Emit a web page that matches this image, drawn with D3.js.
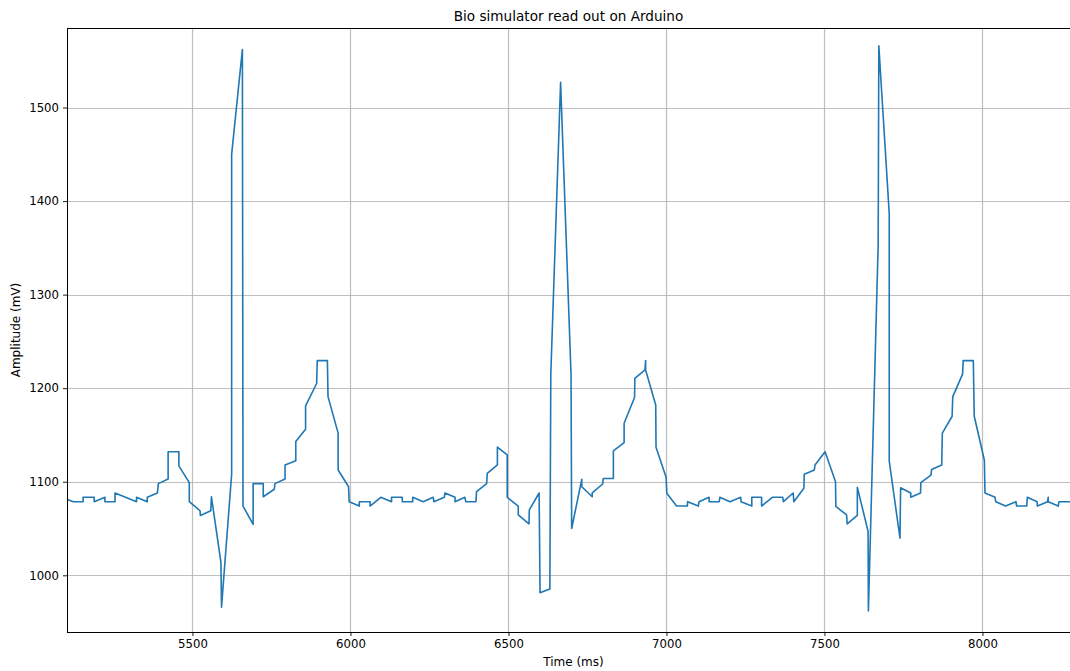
<!DOCTYPE html>
<html>
<head>
<meta charset="utf-8">
<script src="https://cdn.jsdelivr.net/npm/d3@7"></script>
<style>
  html, body { margin: 0; padding: 0; background: #fff; }
  svg { display: block; }
  text { font-family: "DejaVu Sans", sans-serif; fill: #000; }
</style>
</head>
<body>
<svg id="chart" width="1070" height="671"></svg>
<script>
// ---- Data ----
const timeMs = [
  5104, 5123, 5154, 5154, 5189, 5189, 5223, 5223, 5255, 5255,
  5323, 5323, 5357, 5357, 5389, 5392, 5423, 5423, 5457, 5457,
  5490, 5490, 5524, 5525, 5558, 5560, 5590, 5592, 5624, 5624,
  5658, 5660, 5692, 5692, 5724, 5724, 5759, 5761, 5793, 5793,
  5827, 5827, 5858, 5858, 5893, 5895, 5927, 5929, 5961, 5961,
  5994, 5996, 6028, 6028, 6062, 6062, 6096, 6130, 6130, 6164,
  6164, 6197, 6197, 6230, 6262, 6264, 6297, 6299, 6331, 6331,
  6362, 6365, 6397, 6399, 6431, 6433, 6465, 6465, 6496, 6496,
  6531, 6531, 6565, 6566, 6597, 6600, 6631, 6634, 6665, 6698,
  6700, 6732, 6732, 6765, 6765, 6798, 6800, 6832, 6832, 6866,
  6866, 6899, 6900, 6932, 6934, 6934, 6966, 6967, 6999, 7001,
  7032, 7066, 7067, 7101, 7103, 7135, 7135, 7167, 7169, 7201,
  7235, 7236, 7270, 7270, 7301, 7301, 7335, 7368, 7370, 7401,
  7403, 7435, 7436, 7468, 7470, 7502, 7535, 7536, 7570, 7572,
  7604, 7604, 7638, 7639, 7670, 7672, 7705, 7705, 7739, 7741,
  7773, 7773, 7804, 7805, 7837, 7839, 7871, 7873, 7904, 7906,
  7937, 7939, 7971, 7974, 8006, 8008, 8040, 8042, 8073, 8106,
  8108, 8140, 8142, 8173, 8174, 8206, 8208, 8208, 8240, 8242,
  8277
];
const amplitudeMv = [
  1081.0, 1078.7, 1078.7, 1083.4, 1083.4, 1078.7, 1083.4, 1078.7, 1078.7, 1088.0,
  1078.7, 1083.4, 1078.7, 1083.4, 1088.0, 1098.0, 1103.0, 1132.0, 1132.0, 1117.0,
  1099.0, 1078.7, 1069.0, 1064.0, 1069.0, 1084.0, 1014.0, 966.0, 1108.0, 1450.0,
  1562.0, 1074.0, 1054.5, 1098.0, 1098.0, 1084.0, 1092.0, 1098.0, 1103.0, 1118.0,
  1122.5, 1143.0, 1156.0, 1181.0, 1205.0, 1229.5, 1229.5, 1191.0, 1152.0, 1112.6,
  1094.7, 1078.7, 1074.0, 1078.7, 1078.7, 1074.0, 1083.4, 1078.7, 1083.4, 1083.4,
  1078.7, 1078.7, 1083.4, 1078.7, 1083.4, 1078.7, 1083.4, 1088.0, 1083.4, 1078.7,
  1083.4, 1078.7, 1078.7, 1089.4, 1098.0, 1109.0, 1118.0, 1137.0, 1128.6, 1083.4,
  1074.0, 1064.5, 1055.0, 1070.0, 1088.0, 981.4, 985.4, 1215.0, 1527.0, 1215.0,
  1050.0, 1102.6, 1094.7, 1084.0, 1088.0, 1097.6, 1103.4, 1103.4, 1133.0, 1141.8,
  1162.5, 1190.0, 1210.6, 1219.5, 1229.5, 1219.5, 1182.0, 1137.0, 1104.5, 1087.7,
  1074.0, 1074.0, 1078.7, 1074.0, 1078.7, 1083.4, 1078.7, 1078.7, 1083.4, 1078.7,
  1083.4, 1078.7, 1074.0, 1083.4, 1083.4, 1074.0, 1083.4, 1083.4, 1078.7, 1088.0,
  1078.7, 1093.0, 1108.0, 1112.6, 1118.0, 1132.0, 1100.0, 1073.6, 1064.5, 1055.0,
  1064.0, 1094.0, 1047.0, 962.0, 1354.0, 1566.0, 1386.6, 1122.0, 1039.6, 1093.5,
  1088.0, 1083.4, 1088.0, 1099.0, 1107.0, 1113.0, 1118.0, 1152.0, 1170.0, 1191.0,
  1215.0, 1229.5, 1229.5, 1170.0, 1123.0, 1088.0, 1083.4, 1078.7, 1074.0, 1078.7,
  1074.0, 1074.0, 1083.4, 1078.7, 1074.0, 1078.7, 1083.4, 1078.7, 1074.0, 1078.7,
  1078.7
];
const xTicks = [5500, 6000, 6500, 7000, 7500, 8000];
const yTicks = [1000, 1100, 1200, 1300, 1400, 1500];
const chartTitle = "Bio simulator read out on Arduino";
const xLabel = "Time (ms)";
const yLabel = "Amplitude (mV)";

// ---- Layout ----
const svg = d3.select("#chart");
const L = 67, R = 1070, T = 28, B = 632;

const x = d3.scaleLinear().domain([5103, 8277]).range([L, R]);
const y = d3.scaleLinear().domain([939.4, 1585]).range([B, T]);

const data = timeMs.map((t, i) => ({ t, v: amplitudeMv[i] }));

// grid
const grid = svg.append("g");
grid.selectAll("line.gx").data(xTicks).join("line")
  .attr("x1", d => Math.round(x(d)) + 0.5).attr("x2", d => Math.round(x(d)) + 0.5)
  .attr("y1", T).attr("y2", B)
  .attr("stroke", "#b0b0b0").attr("stroke-width", 1.2).attr("opacity", 0.8);
grid.selectAll("line.gy").data(yTicks).join("line")
  .attr("y1", d => Math.round(y(d)) + 0.5).attr("y2", d => Math.round(y(d)) + 0.5)
  .attr("x1", L).attr("x2", R)
  .attr("stroke", "#b0b0b0").attr("stroke-width", 1.2).attr("opacity", 0.8);

// line
svg.append("defs").append("clipPath").attr("id", "clip")
  .append("rect").attr("x", L).attr("y", T).attr("width", R - L).attr("height", B - T);
svg.append("path")
  .datum(data)
  .attr("clip-path", "url(#clip)")
  .attr("fill", "none")
  .attr("stroke", "#1f77b4")
  .attr("stroke-width", 1.6)
  .attr("stroke-linejoin", "round")
  .attr("d", d3.line().x(d => x(d.t)).y(d => y(d.v)));

// axes
const xAxis = d3.axisBottom(x).tickValues(xTicks).tickSize(4).tickPadding(4).tickFormat(d3.format("d"));
const yAxis = d3.axisLeft(y).tickValues(yTicks).tickSize(4).tickPadding(4).tickFormat(d3.format("d"));
const gx = svg.append("g").attr("transform", `translate(0,${B})`).call(xAxis);
const gy = svg.append("g").attr("transform", `translate(${L},0)`).call(yAxis);
[gx, gy].forEach(g => {
  g.select(".domain").remove();
  g.selectAll(".tick line").attr("stroke", "#000").attr("stroke-width", 0.9);
  g.selectAll(".tick text").attr("font-size", 11.7).attr("font-family", "DejaVu Sans, sans-serif").attr("fill", "#000");
});

// frame (right edge lies beyond the canvas)
svg.append("rect")
  .attr("x", L + 0.5).attr("y", T + 0.5)
  .attr("width", R - L + 5).attr("height", B - T)
  .attr("fill", "none").attr("stroke", "#000").attr("stroke-width", 1);

// texts
svg.append("text").attr("x", (L + R) / 2).attr("y", 21)
  .attr("text-anchor", "middle").attr("font-size", 13.6).text(chartTitle);
svg.append("text").attr("x", (L + R) / 2 + 5).attr("y", 666)
  .attr("text-anchor", "middle").attr("font-size", 12).text(xLabel);
svg.append("text").attr("transform", `translate(20,${(T + B) / 2}) rotate(-90)`)
  .attr("text-anchor", "middle").attr("font-size", 12).text(yLabel);
</script>
</body>
</html>
